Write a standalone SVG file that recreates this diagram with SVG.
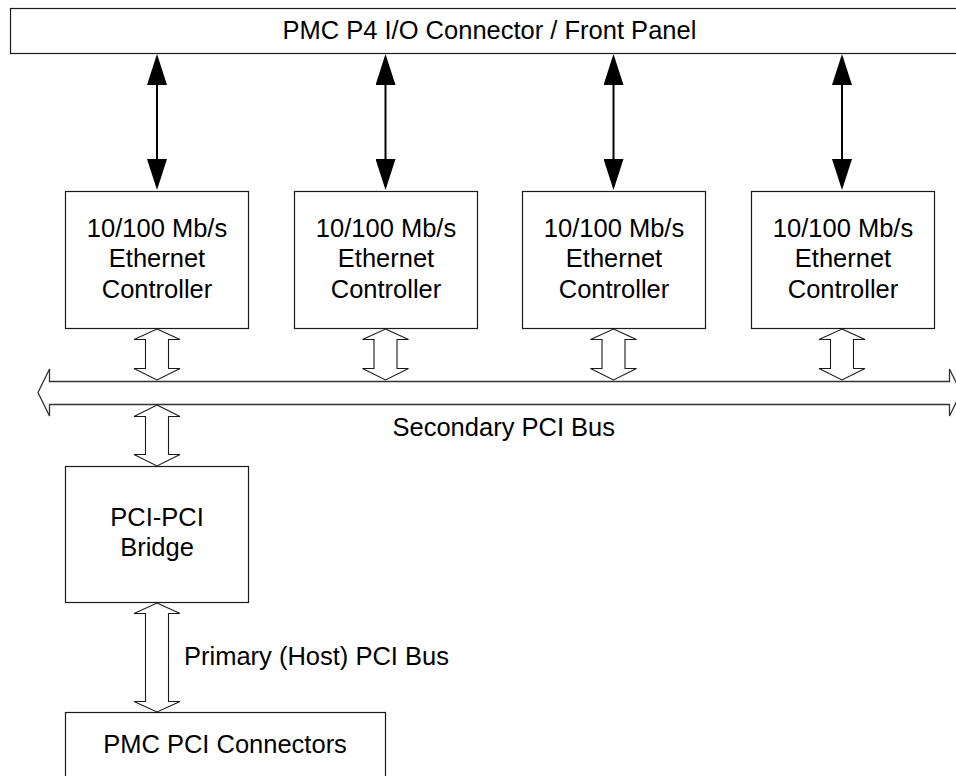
<svg xmlns="http://www.w3.org/2000/svg" width="956" height="776" viewBox="0 0 956 776">
<defs>
<style>
.box{fill:#fff;stroke:#1a1a1a;stroke-width:1.2}
.t{font-family:"Liberation Sans",Arial,sans-serif;font-size:25.5px;fill:#000}
.c{text-anchor:middle}
.hol{fill:#fff;stroke:#1a1a1a;stroke-width:1.1;stroke-linejoin:miter}
.bus{fill:#fff;stroke:#333;stroke-width:1.3}
.blk{stroke:#000;stroke-width:2;fill:none}
</style>
<marker id="ah" viewBox="0 0 31 20" refX="25" refY="10" markerWidth="31" markerHeight="20" markerUnits="userSpaceOnUse" orient="auto-start-reverse">
<path d="M0,0 L31,10 L0,20 Z" fill="#000"/>
</marker>
</defs>
<rect width="956" height="776" fill="#fff"/>

<g id="front-panel">
<rect class="box" x="10.5" y="8.5" width="960" height="45"/>
<text class="t" x="282.5" y="39">PMC P4 I/O Connector / Front Panel</text>
</g>

<g id="eth1">
<rect class="box" x="65.5" y="191.5" width="183" height="137"/>
<text class="t c" x="157" y="237">10/100 Mb/s</text>
<text class="t c" x="157" y="267">Ethernet</text>
<text class="t c" x="157" y="298">Controller</text>
</g>
<g id="eth2">
<rect class="box" x="294.5" y="191.5" width="183" height="137"/>
<text class="t c" x="386" y="237">10/100 Mb/s</text>
<text class="t c" x="386" y="267">Ethernet</text>
<text class="t c" x="386" y="298">Controller</text>
</g>
<g id="eth3">
<rect class="box" x="522.5" y="191.5" width="183" height="137"/>
<text class="t c" x="614" y="237">10/100 Mb/s</text>
<text class="t c" x="614" y="267">Ethernet</text>
<text class="t c" x="614" y="298">Controller</text>
</g>
<g id="eth4">
<rect class="box" x="751.5" y="191.5" width="183" height="137"/>
<text class="t c" x="843" y="237">10/100 Mb/s</text>
<text class="t c" x="843" y="267">Ethernet</text>
<text class="t c" x="843" y="298">Controller</text>
</g>

<g id="bridge">
<rect class="box" x="65.5" y="466.5" width="183" height="136"/>
<text class="t c" x="157" y="526">PCI-PCI</text>
<text class="t c" x="157" y="556">Bridge</text>
</g>

<g id="pmc-pci">
<rect class="box" x="65.5" y="712.5" width="320" height="80"/>
<text class="t c" x="225" y="753">PMC PCI Connectors</text>
</g>

<g id="bus-secondary">
<path class="bus" d="M38,392.5 L49.5,369 L49.5,381.5 L949.5,381.5 L949.5,369 L961,392.5 L949.5,416 L949.5,404.5 L49.5,404.5 L49.5,416 Z"/>
<text class="t" x="392.5" y="436">Secondary PCI Bus</text>
</g>

<g id="connectors">
<line class="blk" x1="157" y1="60" x2="157" y2="184" marker-start="url(#ah)" marker-end="url(#ah)"/>
<line class="blk" x1="385.5" y1="60" x2="385.5" y2="184" marker-start="url(#ah)" marker-end="url(#ah)"/>
<line class="blk" x1="613.5" y1="60" x2="613.5" y2="184" marker-start="url(#ah)" marker-end="url(#ah)"/>
<line class="blk" x1="842" y1="60" x2="842" y2="184" marker-start="url(#ah)" marker-end="url(#ah)"/>

<path class="hol" d="M157,329 L180,339.5 L168.5,339.5 L168.5,368.5 L180,368.5 L157,380 L134,368.5 L145.5,368.5 L145.5,339.5 L134,339.5 Z"/>
<path class="hol" d="M385.5,329 L408.5,339.5 L397,339.5 L397,368.5 L408.5,368.5 L385.5,380 L362.5,368.5 L374,368.5 L374,339.5 L362.5,339.5 Z"/>
<path class="hol" d="M613.5,329 L636.5,339.5 L625,339.5 L625,368.5 L636.5,368.5 L613.5,380 L590.5,368.5 L602,368.5 L602,339.5 L590.5,339.5 Z"/>
<path class="hol" d="M842,329 L865,339.5 L853.5,339.5 L853.5,368.5 L865,368.5 L842,380 L819,368.5 L830.5,368.5 L830.5,339.5 L819,339.5 Z"/>

<path class="hol" d="M157,405 L180,416.5 L168.5,416.5 L168.5,454.5 L180,454.5 L157,466 L134,454.5 L145.5,454.5 L145.5,416.5 L134,416.5 Z"/>
<path class="hol" d="M157,603 L180,613.5 L168.5,613.5 L168.5,701.5 L180,701.5 L157,712 L134,701.5 L145.5,701.5 L145.5,613.5 L134,613.5 Z"/>
<text class="t" x="184" y="665">Primary (Host) PCI Bus</text>
</g>
</svg>
